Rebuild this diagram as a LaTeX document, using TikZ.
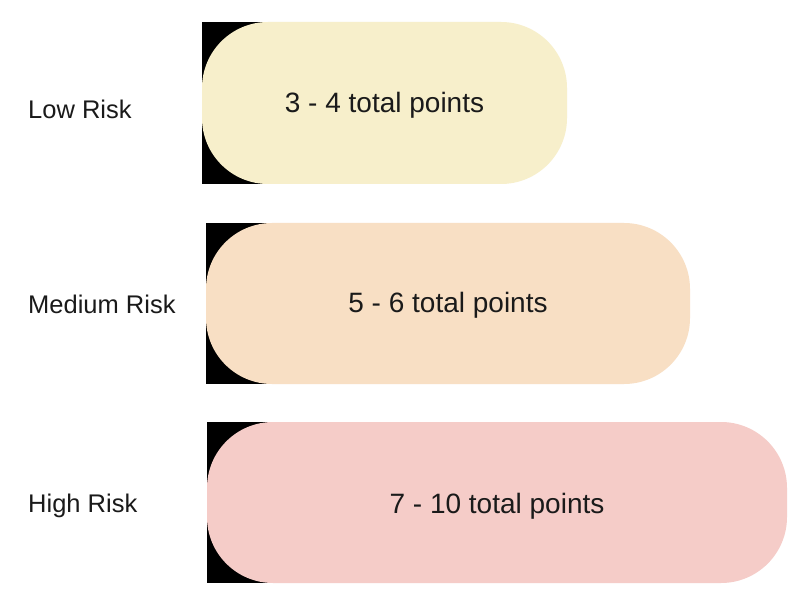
\documentclass[tikz,border=0pt]{standalone}
\usepackage{fontspec}
\setmainfont{Liberation Sans}
\definecolor{boxA}{RGB}{247,239,203}
\definecolor{boxB}{RGB}{248,223,196}
\definecolor{boxC}{RGB}{245,204,200}
\definecolor{ink}{RGB}{26,26,26}
\begin{document}
\begin{tikzpicture}[x=1pt,y=-1pt,
  pill/.style={rounded corners=66pt,draw=none},
  shadowbox/.style={fill=black,draw=none},
  lbl/.style={anchor=base west,inner sep=0pt,text=ink,font=\fontsize{25.5}{30}\selectfont},
  val/.style={anchor=base,inner sep=0pt,text=ink,font=\fontsize{28}{33}\selectfont}]
\useasboundingbox (0,0) rectangle (800,601);
\fill[white] (0,0) rectangle (800,601);
% box 1
\fill[shadowbox] (202,22) rectangle (280,184);
\fill[pill,fill=boxA] (202,22) rectangle (567,184);
\node[val] (v1) at (384.5,113) {3 - 4 total points};
\node[lbl] (l1) at (28,119) {Low Risk};
% box 2
\fill[shadowbox] (206,223) rectangle (284,384);
\fill[pill,fill=boxB] (206,223) rectangle (690,384);
\node[val] (v2) at (448,313) {5 - 6 total points};
\node[lbl] (l2) at (28,314) {Medium Risk};
% box 3
\fill[shadowbox] (207,422) rectangle (285,583);
\fill[pill,fill=boxC] (207,422) rectangle (787,583);
\node[val] (v3) at (497,513) {7 - 10 total points};
\node[lbl] (l3) at (28,512) {High Risk};
\end{tikzpicture}
\end{document}
